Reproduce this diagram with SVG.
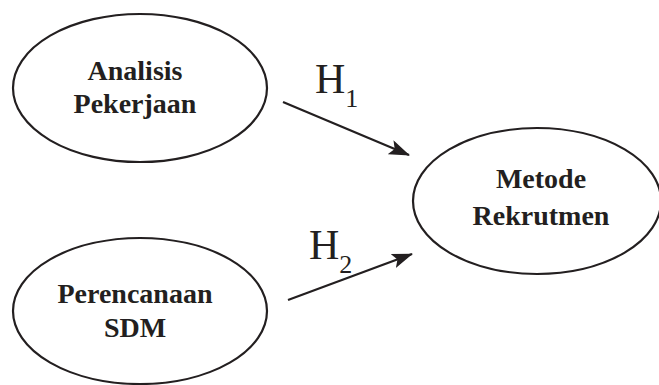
<svg xmlns="http://www.w3.org/2000/svg" width="659" height="385" viewBox="0 0 659 385">
<style>
.node{fill:#fff;stroke:#231f20;stroke-width:2.2}
.lbl{font-family:"Liberation Serif","Times New Roman",serif;font-weight:bold;font-size:28px;fill:#231f20;text-anchor:middle}
.h{font-family:"Liberation Serif","Times New Roman",serif;fill:#231f20;font-size:42px}
.sub{font-size:26px}
.conn{stroke:#231f20;stroke-width:2.2;fill:none}
</style>
<defs>
<marker id="ah" markerWidth="21" markerHeight="15" refX="20" refY="7.5" orient="auto" markerUnits="userSpaceOnUse" viewBox="0 0 21 15">
<path d="M0,0 L21,7.5 L0,15 L4.5,7.5 Z" fill="#231f20"/>
</marker>
</defs>
<rect width="659" height="385" fill="#fff"/>
<g id="analisis">
<ellipse class="node" cx="140" cy="88" rx="127" ry="74"/>
<text class="lbl" x="135" y="80">Analisis</text>
<text class="lbl" x="135" y="113">Pekerjaan</text>
</g>
<g id="perencanaan">
<ellipse class="node" cx="140" cy="311" rx="127" ry="73"/>
<text class="lbl" x="135" y="303">Perencanaan</text>
<text class="lbl" x="135" y="337">SDM</text>
</g>
<g id="metode">
<ellipse class="node" cx="537" cy="201" rx="124" ry="73"/>
<text class="lbl" x="541" y="188">Metode</text>
<text class="lbl" x="541" y="225">Rekrutmen</text>
</g>
<g id="connectors">
<line class="conn" x1="283" y1="102" x2="409" y2="155" marker-end="url(#ah)"/>
<line class="conn" x1="288" y1="300" x2="412" y2="254" marker-end="url(#ah)"/>
</g>
<g id="labels">
<text class="h" x="315" y="93">H<tspan class="sub" dy="14">1</tspan></text>
<text class="h" x="309" y="259">H<tspan class="sub" dy="14">2</tspan></text>
</g>
</svg>
